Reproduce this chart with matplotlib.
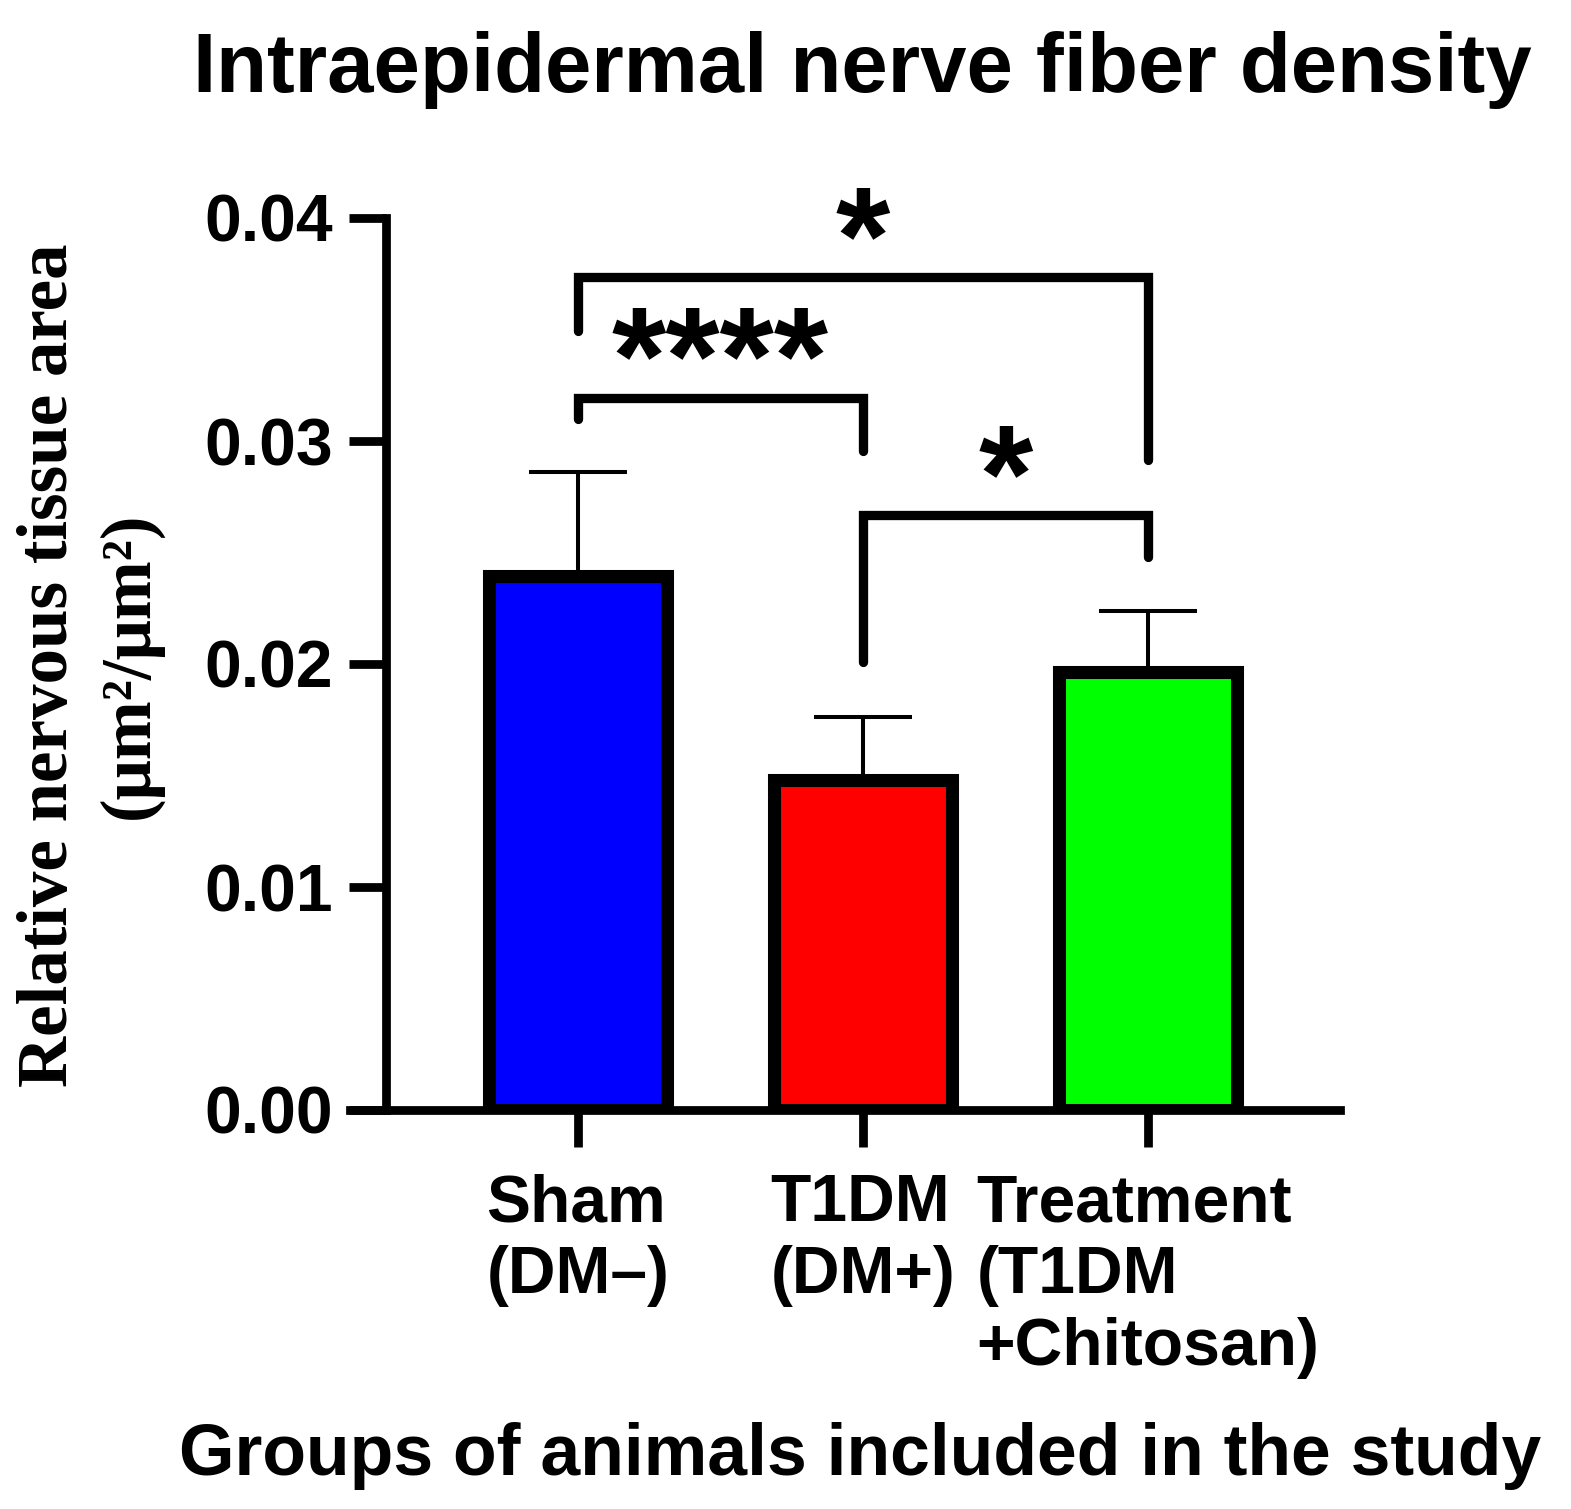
import numpy as np
import matplotlib
matplotlib.use("Agg")
import matplotlib.pyplot as plt
from matplotlib.textpath import TextPath
from matplotlib.font_manager import FontProperties
from matplotlib.transforms import offset_copy

# --- data ---
groups = ["Sham\n(DM–)", "T1DM\n(DM+)", "Treatment\n(T1DM\n+Chitosan)"]
means = [0.02395, 0.01482, 0.01962]
sem = [0.00466, 0.00280, 0.00276]
colors = ["#0000FF", "#FF0000", "#00FF00"]

# significance brackets: (group a, group b), bracket height, leg ends, label
pairs = [(0, 2), (0, 1), (1, 2)]
bracket_y = [0.03735, 0.03195, 0.02666]
left_end = [0.03493, 0.03099, 0.02009]
right_end = [0.02915, 0.02955, 0.02478]
stars = ["*", "****", "*"]
star_y = [0.04022, 0.03484, 0.02955]

yticks = [0.00, 0.01, 0.02, 0.03, 0.04]
ytick_labels = ["0.00", "0.01", "0.02", "0.03", "0.04"]

plt.rcParams['font.family'] = ['Liberation Sans', 'DejaVu Sans']
plt.rcParams['font.weight'] = 'bold'

W, H = 1571, 1509
fig = plt.figure(figsize=(W / 100, H / 100), dpi=100)
ax = fig.add_axes([350 / W, (H - 1110) / H, (1340 - 350) / W, (1110 - 218) / H])

x = np.arange(len(groups))
ax.errorbar(x, means, yerr=[np.zeros(len(sem)), sem], fmt='none', ecolor='black',
            elinewidth=2.9, capsize=35, capthick=2.9, zorder=1, clip_on=False)
ax.bar(x, means, width=0.625, color=colors, edgecolor='black', linewidth=9.4, zorder=2)

ax.set_xlim(-0.8, 2.674)
ax.set_ylim(0, 0.04)

for s in ['top', 'right']:
    ax.spines[s].set_visible(False)
ax.spines['left'].set_position(('data', -0.674))
for s in ['left', 'bottom']:
    ax.spines[s].set_linewidth(6.3)
    ax.spines[s].set_zorder(3)

ax.set_yticks(yticks)
ax.set_yticklabels(ytick_labels)
ax.set_xticks(x)
ax.set_xticklabels(groups)
ax.tick_params(axis='both', length=26.5, width=6.3, labelsize=47.5, color='black')
ax.tick_params(axis='y', pad=11.5)
ax.tick_params(axis='x', pad=19)
for lbl in ax.get_xticklabels():
    lbl.set_multialignment('left')
    lbl.set_linespacing(1.21)
    lbl.set_fontweight('bold')
for lbl in ax.get_yticklabels():
    lbl.set_fontweight('bold')

# brackets
for (a, b), yb, la, rb in zip(pairs, bracket_y, left_end, right_end):
    ax.plot([a, a, b, b], [la, yb, yb, rb], color='black', lw=6.7,
            solid_capstyle='round', solid_joinstyle='miter', clip_on=False, zorder=4)

# stars, centred on their glyph
fp = FontProperties(family='Liberation Sans', weight='bold')
ext = TextPath((0, 0), '*', size=1, prop=fp).get_extents()
star_fs = 37.4 / ext.height
cy = (ext.y0 + ext.y1) / 2 * star_fs
for (a, b), lab, ys in zip(pairs, stars, star_y):
    tr = offset_copy(ax.transData, fig=fig, x=0, y=-cy, units='points')
    ax.text((a + b) / 2, ys, lab, transform=tr, ha='center', va='baseline',
            fontsize=star_fs, fontweight='bold', clip_on=False, zorder=5)

fig.text(862 / W, (H - 92) / H, "Intraepidermal nerve fiber density",
         ha='center', va='baseline', fontsize=60, fontweight='bold')
fig.text(860 / W, (H - 1475) / H, "Groups of animals included in the study",
         ha='center', va='baseline', fontsize=51.5, fontweight='bold')
fig.text(90 / W, (H - 665) / H, "Relative nervous tissue area\n(μm²/μm²)",
         ha='center', va='center', rotation=90, multialignment='center',
         fontsize=51, fontweight='bold', family='Liberation Serif', linespacing=1.3)

fig.savefig("out.png", dpi=100)
